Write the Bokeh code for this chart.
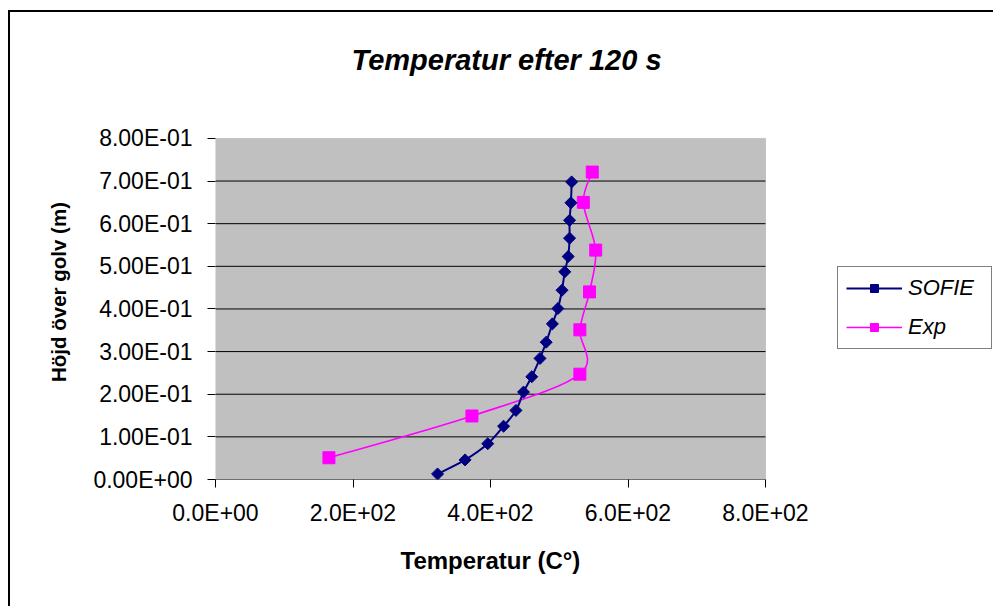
from bokeh.plotting import figure
from bokeh.models import (Range1d, FixedTicker, Legend, LegendItem, CustomJSTickFormatter,
                          BoxAnnotation, Title)
from bokeh.embed import file_html
from bokeh.resources import INLINE

# ---- data ----
sofie_temp = [323, 363, 396, 419, 437, 448, 460, 472, 481, 490, 498, 504, 508, 513, 515, 515, 517, 518]
sofie_height = [0.013, 0.046, 0.084, 0.125, 0.162, 0.205, 0.241, 0.284, 0.322, 0.365,
                0.401, 0.444, 0.487, 0.523, 0.566, 0.608, 0.649, 0.698]
exp_temp = [165, 373, 530, 530, 544, 553, 535, 548]
exp_height = [0.051, 0.149, 0.247, 0.351, 0.440, 0.538, 0.650, 0.721]

x_ticks = [0, 200, 400, 600, 800]
x_tick_labels = ["0.0E+00", "2.0E+02", "4.0E+02", "6.0E+02", "8.0E+02"]
y_ticks = [0.0, 0.1, 0.2, 0.3, 0.4, 0.5, 0.6, 0.7, 0.8]
y_tick_labels = ["0.00E+00", "1.00E-01", "2.00E-01", "3.00E-01", "4.00E-01",
                 "5.00E-01", "6.00E-01", "7.00E-01", "8.00E-01"]
grid_ticks = [0.0, 0.1, 0.2, 0.3, 0.4, 0.5, 0.6, 0.7]

title_text = "Temperatur efter 120 s"
x_label = "Temperatur (C°)"
y_label = "Höjd över golv (m)"
names = ["SOFIE", "Exp"]

FONT = "Liberation Sans"

# ---- layout (pixels) ----
PLOT_W, PLOT_H = 550, 342          # grey plotting area
FRAME_W, FRAME_H = 780, 376        # frame also holds the legend / headroom
x_min, x_max = x_ticks[0], x_ticks[-1]
y_min, y_max = y_ticks[0], y_ticks[-1]
x_view_end = x_min + (x_max - x_min) * FRAME_W / PLOT_W
y_view_end = y_min + (y_max - y_min) * FRAME_H / PLOT_H


def smooth_segments(xs, ys):
    """Bezier segments (Catmull-Rom style, like a smoothed spreadsheet line)."""
    n = len(xs)
    out = dict(x0=[], y0=[], x1=[], y1=[], cx0=[], cy0=[], cx1=[], cy1=[])
    for i in range(n - 1):
        a = i - 1 if i > 0 else i
        d = i + 2 if i + 2 < n else i + 1
        out["x0"].append(xs[i]); out["y0"].append(ys[i])
        out["x1"].append(xs[i + 1]); out["y1"].append(ys[i + 1])
        out["cx0"].append(xs[i] + (xs[i + 1] - xs[a]) / 6.0)
        out["cy0"].append(ys[i] + (ys[i + 1] - ys[a]) / 6.0)
        out["cx1"].append(xs[i + 1] - (xs[d] - xs[i]) / 6.0)
        out["cy1"].append(ys[i + 1] - (ys[d] - ys[i]) / 6.0)
    return out


p = figure(width=985, height=596, output_backend="svg", toolbar_location=None,
           x_range=Range1d(x_min, x_view_end), y_range=Range1d(y_min, y_view_end),
           min_border_left=205, min_border_right=0,
           min_border_top=91, min_border_bottom=129)
p.styles = {"border-left": "2px solid #000000", "border-top": "2px solid #000000",
            "margin-top": "10px", "margin-left": "8px"}

p.background_fill_color = "#FFFFFF"
p.border_fill_color = "#FFFFFF"
p.outline_line_color = None

# grey plotting area
p.add_layout(BoxAnnotation(left=x_min, right=x_max, bottom=y_min, top=y_max,
                           fill_color="#C0C0C0", fill_alpha=1,
                           line_color="#808080", line_width=1, level="underlay"))

# title
p.title.text = title_text
p.title.text_font = FONT
p.title.text_font_size = "29px"
p.title.text_font_style = "bold italic"
p.title.align = "left"
p.title.offset = 136
p.title.standoff = 58
p.title.text_color = "#000000"

# axes
for ax in (p.xaxis[0], p.yaxis[0]):
    ax.axis_line_color = None
    ax.major_tick_line_color = "#000000"
    ax.major_tick_in = 0
    ax.major_tick_out = 8
    ax.minor_tick_line_color = None
    ax.major_label_text_font = FONT
    ax.major_label_text_font_size = "23px"
    ax.major_label_text_color = "#000000"
    ax.axis_label_text_font = FONT
    ax.axis_label_text_font_style = "bold"
    ax.axis_label_text_color = "#000000"

p.yaxis.axis_label_text_font_size = "20.5px"
p.xaxis.ticker = FixedTicker(ticks=x_ticks)
p.yaxis.ticker = FixedTicker(ticks=y_ticks)
p.xaxis.formatter = CustomJSTickFormatter(args=dict(labels=x_tick_labels),
                                          code="return labels[index]")
p.yaxis.formatter = CustomJSTickFormatter(args=dict(labels=y_tick_labels),
                                          code="return labels[index]")
p.xaxis.major_label_standoff = 12
p.yaxis.major_label_standoff = 15
p.yaxis.axis_label = y_label
p.yaxis.axis_label_standoff = 20

# x axis title, centred under the grey plotting area
p.add_layout(Title(text=x_label, text_font=FONT, text_font_size="24px",
                   text_font_style="bold", text_color="#000000",
                   align="left", offset=185, standoff=32), "below")

p.xgrid.visible = False
p.ygrid.visible = False

# horizontal grid lines across the plotting area only
p.segment(x0=[x_min] * len(grid_ticks), x1=[x_max] * len(grid_ticks),
          y0=grid_ticks, y1=grid_ticks, line_color="#000000", line_width=1)

# series
exp_line = p.bezier(**smooth_segments(exp_temp, exp_height), line_color="#FF00FF", line_width=1.6)
exp_pts = p.scatter(exp_temp, exp_height, marker="square", size=12,
                    fill_color="#FF00FF", line_color="#FF00FF")
sofie_line = p.bezier(**smooth_segments(sofie_temp, sofie_height), line_color="#000080", line_width=2)
sofie_pts = p.scatter(sofie_temp, sofie_height, marker="square", size=8.5, angle=0.785398,
                      fill_color="#000080", line_color="#000080")

legend = Legend(items=[LegendItem(label=names[0], renderers=[sofie_line, sofie_pts]),
                       LegendItem(label=names[1], renderers=[exp_line, exp_pts])],
                location=(622, 130))
legend.label_text_font = FONT
legend.label_text_font_size = "22px"
legend.label_text_font_style = "italic"
legend.label_text_color = "#000000"
legend.border_line_color = "#000000"
legend.border_line_width = 1
legend.background_fill_color = "#FFFFFF"
legend.background_fill_alpha = 1
legend.glyph_width = 56
legend.glyph_height = 20
legend.label_height = 20
legend.label_width = 75
legend.label_standoff = 6
legend.padding = 8
legend.spacing = 13
legend.margin = 0
p.add_layout(legend)

open("out.html", "w").write(file_html(p, INLINE))
